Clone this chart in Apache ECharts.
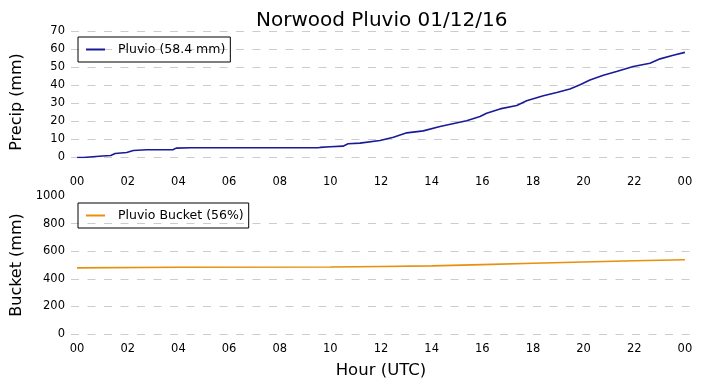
<!DOCTYPE html>
<html><head><meta charset="utf-8">
<script src="https://cdn.jsdelivr.net/npm/echarts@6/dist/echarts.min.js"></script>
<style>html,body{margin:0;padding:0;background:#fff}#c{width:703px;height:388px}</style>
</head><body><div id="c"></div>
<script>
const titleText = 'Norwood Pluvio 01/12/16';
const xTickValues = [0,2,4,6,8,10,12,14,16,18,20,22,24];
const xTickLabels = ['00','02','04','06','08','10','12','14','16','18','20','22','00'];
const precipHours = [0,0.25,0.3,1.0,1.33,1.5,1.96,2.22,2.75,3.8,3.91,4.5,9.5,9.6,10.0,10.5,10.7,11.17,11.24,11.96,12.49,13.02,13.67,14.33,15.38,15.91,16.17,16.7,17.36,17.75,18.41,18.94,19.46,19.86,20.25,20.78,21.3,21.96,22.62,23.02,23.54,24.0];
const precipValues = [0,0,0.6,0.8,1.1,2.2,2.8,3.9,4.3,4.4,5.2,5.4,5.4,5.6,6.0,6.3,7.6,8.0,8.5,9.4,11.3,13.7,14.8,17.2,20.4,22.8,24.6,27.0,28.9,31.5,34.3,36.1,38.0,40.4,43.1,45.7,47.8,50.6,52.4,54.8,56.8,58.4];
const bucketHours = [0,4,10,11,12,14,16,18,20,22,24];
const bucketValues = [479,484,485,487,489,494,503,513,522,531,538];
const precipName = 'Pluvio (58.4 mm)';
const bucketName = 'Pluvio Bucket (56%)';

const FONT = 'DejaVu Sans';
const chart = echarts.init(document.getElementById('c'), null, {renderer:'canvas'});
const pair = (xs, ys) => xs.map((x,i)=>[x, ys[i]]);
const xAxisBase = (gi, margin) => ({
  type:'value', gridIndex:gi, min:-0.24, max:24.24,
  axisLine:{show:false}, axisTick:{show:false}, splitLine:{show:false},
  axisLabel:{customValues:xTickValues, margin:margin, fontFamily:FONT, fontSize:11.5, color:'#000',
    formatter:v=>{const i=xTickValues.indexOf(Math.round(v)); return i>=0?xTickLabels[i]:'';}}
});
const splitStyle = {show:true, lineStyle:{color:'#cccccc', type:[8,8.5], width:1}};
const legendBase = (name, top) => ({
  data:[name], left:78, top:top, orient:'vertical', padding:[6,5,6,8],
  icon:'rect', itemWidth:19, itemHeight:2,
  borderColor:'#000', borderWidth:1, borderRadius:0,
  textStyle:{fontFamily:FONT, fontSize:12.5, color:'#000', padding:[0,0,0,8]}
});
chart.setOption({
  animation:false,
  title:{text:titleText, left:251, top:6, textStyle:{fontFamily:FONT, fontSize:20, fontWeight:'normal', color:'#000'}},
  grid:[
    {left:71, right:12, top:31.5, height:126},
    {left:71, right:12, top:196, height:138}
  ],
  xAxis:[
    xAxisBase(0, 19),
    Object.assign(xAxisBase(1, 9), {name:'Hour (UTC)', nameLocation:'middle', nameGap:28,
      nameTextStyle:{fontFamily:FONT, fontSize:16.5, color:'#000'}})
  ],
  yAxis:[
    {type:'value', gridIndex:0, min:0, max:70, interval:10,
     name:'Precip (mm)', nameLocation:'middle', nameGap:46,
     nameTextStyle:{fontFamily:FONT, fontSize:16, color:'#000', padding:[0,0,0,-15]},
     axisLine:{show:false}, axisTick:{show:false},
     axisLabel:{margin:6, fontFamily:FONT, fontSize:11.5, color:'#000'},
     splitLine:splitStyle},
    {type:'value', gridIndex:1, min:0, max:1000, interval:200,
     name:'Bucket (mm)', nameLocation:'middle', nameGap:46,
     nameTextStyle:{fontFamily:FONT, fontSize:16, color:'#000'},
     axisLine:{show:false}, axisTick:{show:false},
     axisLabel:{margin:6, fontFamily:FONT, fontSize:11.5, color:'#000', formatter:v=>String(v)},
     splitLine:Object.assign({showMaxLine:false}, splitStyle)}
  ],
  legend:[legendBase(precipName, 37), legendBase(bucketName, 203)],
  series:[
    {name:precipName, type:'line', xAxisIndex:0, yAxisIndex:0, data:pair(precipHours, precipValues),
     symbol:'none', color:'#1a1a99', lineStyle:{width:1.6, color:'#1a1a99'}},
    {name:bucketName, type:'line', xAxisIndex:1, yAxisIndex:1, data:pair(bucketHours, bucketValues),
     symbol:'none', color:'#e8900c', lineStyle:{width:1.6, color:'#e8900c'}}
  ]
});
</script></body></html>
